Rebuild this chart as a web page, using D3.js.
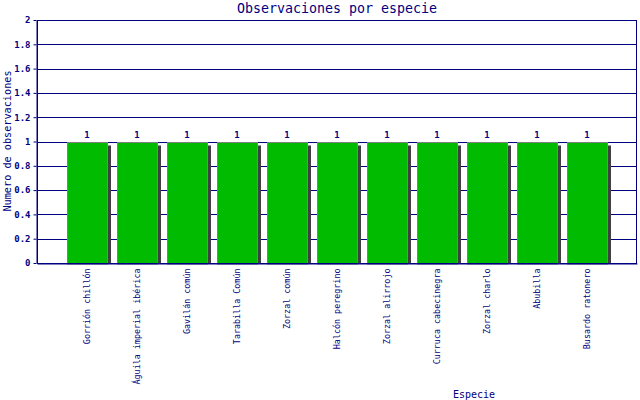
<!DOCTYPE html>
<html lang="en">
<head>
<meta charset="utf-8">
<title>Observaciones por especie</title>
<script src="https://cdnjs.cloudflare.com/ajax/libs/d3/7.8.5/d3.min.js"></script>
<style>
    body { margin: 0; background: #fff; }
    svg text { font-family: "DejaVu Sans Mono", "Liberation Mono", monospace; fill: #000080; }
</style>
</head>
<body>
<div id="chart"></div>
<script>
    var especies = ["Gorrión chillón", "Águila imperial ibérica", "Gavilán común", "Tarabilla Común",
                    "Zorzal común", "Halcón peregrino", "Zorzal alirrojo", "Curruca cabecinegra",
                    "Zorzal charlo", "Abubilla", "Busardo ratonero"];
    var observaciones = [1, 1, 1, 1, 1, 1, 1, 1, 1, 1, 1];
    var yTicks = [0, 0.2, 0.4, 0.6, 0.8, 1, 1.2, 1.4, 1.6, 1.8, 2];

    var width = 640, height = 400;
    var margin = {top: 20, right: 3, bottom: 137, left: 37};
    var navy = "#000080";

    var svg = d3.select("#chart").append("svg")
        .attr("width", width)
        .attr("height", height);

    var x = d3.scaleBand()
        .domain(especies)
        .range([margin.left, width - margin.right])
        .paddingInner(0.2)
        .paddingOuter(0.6);

    var y = d3.scaleLinear()
        .domain([0, 2])
        .range([height - margin.bottom, margin.top]);

    // grid
    svg.append("g")
        .selectAll("line")
        .data(yTicks.slice(1))
        .enter().append("line")
        .attr("x1", margin.left)
        .attr("x2", width - margin.right)
        .attr("y1", d => Math.round(y(d)) + 0.5)
        .attr("y2", d => Math.round(y(d)) + 0.5)
        .style("stroke", navy);

    svg.append("clipPath").attr("id", "plot")
        .append("rect")
        .attr("x", margin.left)
        .attr("y", margin.top)
        .attr("width", width - margin.left - margin.right)
        .attr("height", height - margin.top - margin.bottom);

    // shadows
    svg.append("g")
        .attr("clip-path", "url(#plot)")
        .selectAll("rect")
        .data(observaciones)
        .enter().append("rect")
        .attr("x", (d, i) => x(especies[i]) + 4)
        .attr("y", d => y(d) + 4)
        .attr("width", x.bandwidth())
        .attr("height", d => y(0) - y(d))
        .style("fill", "#404040");

    // bars
    svg.append("g")
        .selectAll("rect")
        .data(observaciones)
        .enter().append("rect")
        .attr("x", (d, i) => Math.round(x(especies[i])) + 0.5)
        .attr("y", d => Math.round(y(d)) + 0.5)
        .attr("width", x.bandwidth())
        .attr("height", d => y(0) - y(d))
        .style("fill", "#00bb00")
        .style("stroke", "#808080");

    // value labels
    svg.append("g")
        .selectAll("text")
        .data(observaciones)
        .enter().append("text")
        .attr("x", (d, i) => x(especies[i]) + x.bandwidth() / 2)
        .attr("y", d => y(d) - 4)
        .style("text-anchor", "middle")
        .style("font-size", "9px")
        .style("font-weight", "bold")
        .text(d => d);

    // border of plot area
    svg.append("rect")
        .attr("x", margin.left + 0.5)
        .attr("y", margin.top + 0.5)
        .attr("width", width - margin.left - margin.right - 1)
        .attr("height", height - margin.top - margin.bottom)
        .style("fill", "none")
        .style("stroke", navy);

    // y axis
    var yAxis = svg.append("g")
        .attr("transform", "translate(" + (margin.left - 0.5) + ",0)")
        .call(d3.axisLeft(y).tickValues(yTicks).tickSize(3).tickSizeOuter(0).tickPadding(3)
            .tickFormat(d3.format("~g")));
    yAxis.selectAll("path, line").style("stroke", navy);
    yAxis.selectAll("text").style("font-size", "9px").style("font-weight", "bold")
        .style("fill", navy).attr("font-family", null);

    // x axis
    var xAxis = svg.append("g")
        .attr("transform", "translate(0," + (y(0) + 0.5) + ")")
        .call(d3.axisBottom(x).tickSize(0).tickSizeOuter(0).tickPadding(0));
    xAxis.select("path").style("stroke", navy);
    xAxis.selectAll("text")
        .attr("transform", "rotate(-90)")
        .attr("x", -5)
        .attr("y", 0)
        .attr("dy", "0.32em")
        .style("text-anchor", "end")
        .style("font-size", "8.4px")
        .style("fill", navy)
        .attr("font-family", null);

    // titles
    svg.append("text")
        .attr("x", 337)
        .attr("y", 13)
        .style("text-anchor", "middle")
        .style("font-size", "13.3px")
        .text("Observaciones por especie");

    svg.append("text")
        .attr("transform", "translate(11,141) rotate(-90)")
        .style("text-anchor", "middle")
        .style("font-size", "10.2px")
        .text("Numero de observaciones");

    svg.append("text")
        .attr("x", 474)
        .attr("y", 398)
        .style("text-anchor", "middle")
        .style("font-size", "10px")
        .text("Especie");
</script>
</body>
</html>
